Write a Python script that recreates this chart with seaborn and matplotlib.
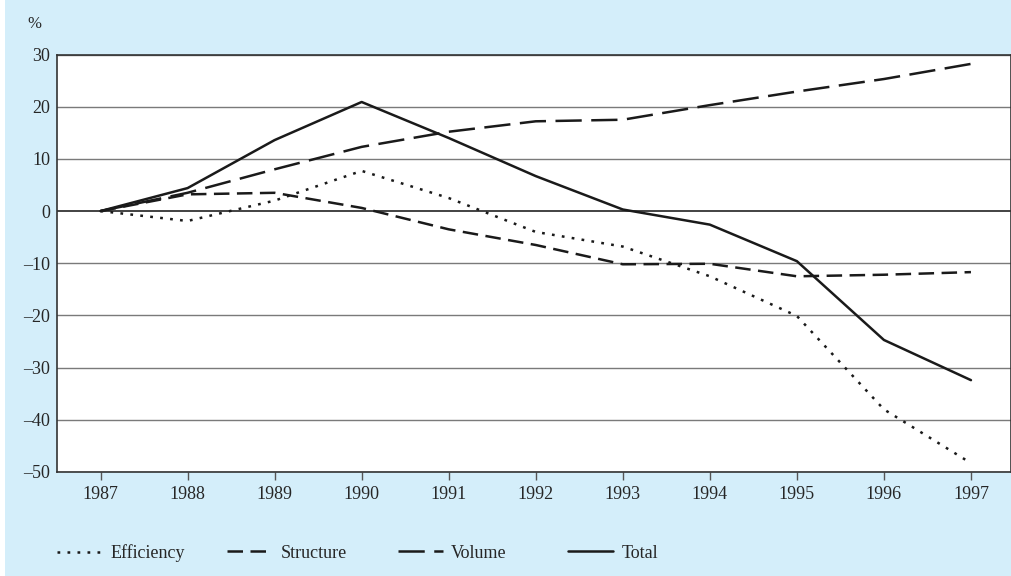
# Index decomposition chart: efficiency, structure, volume and total, 1987-1997
import matplotlib.pyplot as plt
import matplotlib as mpl
import pandas as pd
import seaborn as sns
from matplotlib.patches import Rectangle

BG = '#d4eefa'

sns.set_theme(style='white')
mpl.rcParams['font.family'] = ['Liberation Serif', 'DejaVu Serif']
mpl.rcParams['font.size'] = 13

years = [1987, 1988, 1989, 1990, 1991, 1992, 1993, 1994, 1995, 1996, 1997]
efficiency = [0, -1.9, 2.0, 7.7, 2.5, -4.0, -6.8, -12.5, -20.1, -38.0, -48.3]
structure = [0, 3.2, 3.5, 0.6, -3.5, -6.5, -10.2, -10.1, -12.5, -12.2, -11.7]
volume = [0, 3.5, 8.0, 12.3, 15.2, 17.2, 17.5, 20.3, 22.9, 25.3, 28.2]
total = [0, 4.4, 13.6, 20.9, 14.0, 6.7, 0.3, -2.6, -9.6, -24.7, -32.4]
series_names = ['Efficiency', 'Structure', 'Volume', 'Total']
y_ticks = [30, 20, 10, 0, -10, -20, -30, -40, -50]

df = pd.DataFrame({'year': years, 'Efficiency': efficiency, 'Structure': structure,
                   'Volume': volume, 'Total': total})
long = df.melt(id_vars='year', var_name='series', value_name='value')

LW = 1.8
DASHES = {'Efficiency': (1.1, 2.9), 'Structure': (6.2, 3.0), 'Volume': (10.5, 3.8), 'Total': ''}

fig = plt.figure(figsize=(10.12, 5.76), dpi=100)
fig.patch.set_facecolor(BG)
fig.patches.append(Rectangle((0, 0), 5 / 1012, 1, transform=fig.transFigure,
                             facecolor='white', edgecolor='none', zorder=-1))
ax = fig.add_axes([57 / 1012, 1 - 472 / 576, 954 / 1012, (472 - 54.5) / 576])
ax.set_facecolor('white')

for v in y_ticks:
    ax.axhline(v, color='#222222' if v == 0 else '#7a7a7a',
               lw=1.2 if v == 0 else 1.0, zorder=1)

sns.lineplot(data=long, x='year', y='value', style='series', style_order=series_names,
             dashes=DASHES, color='#1a1a1a', lw=LW, ax=ax, legend=False, zorder=3)

ax.set_xlim(1986.5, 1997.46)
ax.set_ylim(-50, 30)
ax.set_xticks(years)
ax.set_yticks(y_ticks)
ax.set_yticklabels([str(v).replace('-', '\u2013') for v in y_ticks])
ax.set_xlabel('')
ax.set_ylabel('')
ax.tick_params(axis='x', direction='out', length=6, width=1, color='#555555',
               labelsize=13, pad=4, bottom=True)
ax.tick_params(axis='y', length=0, labelsize=13, pad=5)
for s in ax.spines.values():
    s.set_color('#333333')
    s.set_linewidth(1.2)

fig.text(27 / 1012, 1 - 24 / 576, '%', fontsize=12, ha='left', va='center')

# legend entries placed one by one at the reference positions
legend_x = [57, 227, 398, 568]
for name, x in zip(series_names, legend_x):
    dash = DASHES[name]
    h = mpl.lines.Line2D([], [], color='#1a1a1a', lw=LW,
                         linestyle=(0, dash) if dash else '-')
    fig.legend([h], [name], loc='center left', bbox_to_anchor=(x / 1012, 1 - 553 / 576),
               frameon=False, borderpad=0, borderaxespad=0, handlelength=2.5,
               handletextpad=0.45, fontsize=13)

plt.savefig('out.png', dpi=100, facecolor=fig.get_facecolor())
plt.close()
